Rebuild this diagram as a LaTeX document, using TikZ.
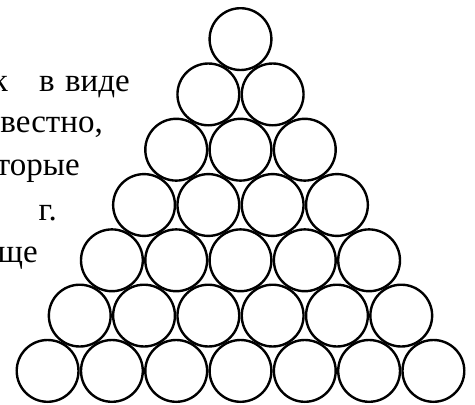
\documentclass[tikz,border=0pt]{standalone}
\usepackage{fontspec}
\setmainfont{Liberation Serif}
\usepackage{tikz}
\definecolor{balldark}{RGB}{0,0,0}
\definecolor{textdark}{RGB}{0,0,0}
\tikzset{
  ball/.style={circle, draw=balldark, line width=2.4pt,
    minimum size=61.8pt, inner sep=0pt},
  word/.style={font=\fontsize{33}{40}\selectfont, text=textdark,
    inner sep=0pt, anchor=base east}
}

\begin{document}
\begin{tikzpicture}[x=1pt, y=-1pt]
\clip (0,0) rectangle (475,405);

%--- TEXT (cut at the left edge) ---
\node[word] (k)   at (8, 91)   {к};
\node[word] (v)   at (55, 91)  {в};
\node[word] (vid) at (130, 91) {виде};
\node[word] (izv) at (103, 132) {вестно,};
\node[word] (kot) at (80, 175)  {торые};
\node[word] (g)   at (57, 220)  {г.};
\node[word] (esh) at (38, 262)  {ще};

%--- BALLS (7 rows) ---
\foreach \i in {0,...,6} {
  \foreach \j in {0,...,\i} {
    \pgfmathsetmacro\bx{240.5+(\j-\i/2)*64.3}
    \pgfmathsetmacro\by{39.1+\i*55.3}
    \node[ball] (b\i\j) at (\bx, \by) {};
  }
}
\end{tikzpicture}
\end{document}
